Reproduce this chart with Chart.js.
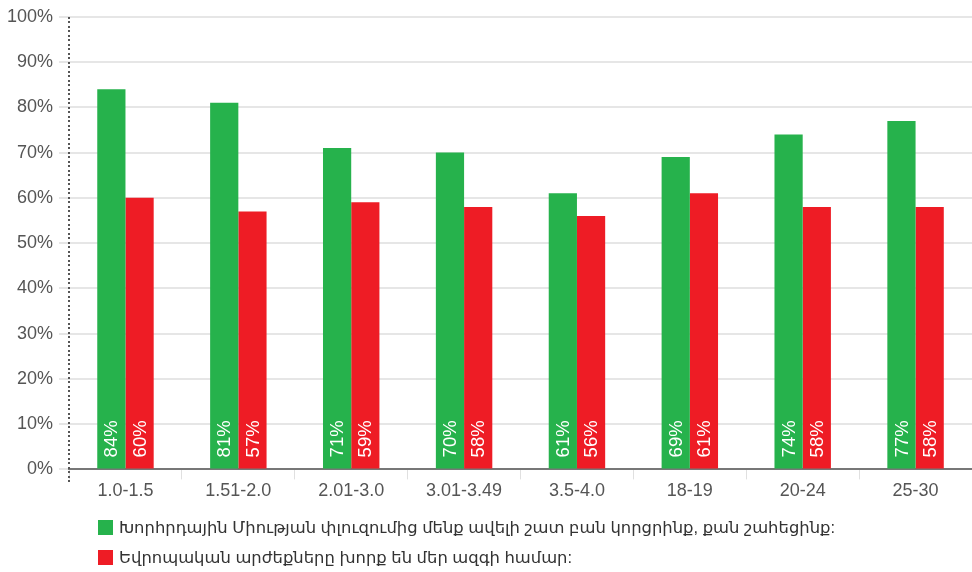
<!DOCTYPE html>
<html>
<head>
<meta charset="utf-8">
<script src="https://cdn.jsdelivr.net/npm/chart.js@4.4.0/dist/chart.umd.min.js"></script>
<style>
html,body{margin:0;padding:0;background:#fff;}
#wrap{position:relative;width:972px;height:572px;}
#legend{position:absolute;left:98px;top:512px;font-family:"Liberation Sans","DejaVu Sans",Arial,sans-serif;font-size:16.4px;color:#333;}
#legend .item{display:flex;align-items:center;height:30px;}
#legend .box{width:15px;height:15px;margin-right:6px;}
</style>
</head>
<body>
<div id="wrap">
<canvas id="c" width="972" height="572"></canvas>
<div id="legend"></div>
</div>
<script>
const categories = ["1.0-1.5","1.51-2.0","2.01-3.0","3.01-3.49","3.5-4.0","18-19","20-24","25-30"];
const seriesNames = ["Խորհրդային Միության փլուզումից մենք ավելի շատ բան կորցրինք, քան շահեցինք:","Եվրոպական արժեքները խորք են մեր ազգի համար:"];
const greenValues = [84,81,71,70,61,69,74,77];
const redValues = [60,57,59,58,56,61,58,58];
const yTicks = [0,10,20,30,40,50,60,70,80,90,100];
const colors = ["#26b24c","#ee1c25"];

const FONT = "'Liberation Sans','DejaVu Sans',Arial,sans-serif";

const labelPlugin = {
  id:'barLabels',
  afterDatasetsDraw(chart){
    const ctx = chart.ctx;
    ctx.save();
    ctx.fillStyle = '#fff';
    ctx.font = "18.5px " + FONT;
    ctx.textAlign = 'left';
    ctx.textBaseline = 'middle';
    chart.data.datasets.forEach((ds,di)=>{
      const meta = chart.getDatasetMeta(di);
      meta.data.forEach((bar,i)=>{
        ctx.save();
        ctx.translate(bar.x, bar.base - 11);
        ctx.rotate(-Math.PI/2);
        ctx.fillText(ds.data[i] + '%', 0, 1);
        ctx.restore();
      });
    });
    ctx.restore();
  }
};

const dottedAxis = {
  id:'dottedAxis',
  afterDraw(chart){
    const ctx = chart.ctx, a = chart.chartArea;
    const x = chart.scales.y.left + chart.scales.y.width;
    ctx.save();
    ctx.fillStyle = '#555';
    for(let y=a.top; y<=a.bottom+14; y+=4.5){
      ctx.fillRect(Math.round(x)-1, Math.round(y), 2, 2);
    }
    ctx.restore();
  }
};

new Chart(document.getElementById('c'),{
  type:'bar',
  data:{
    labels:categories,
    datasets:[
      {label:seriesNames[0],data:greenValues,backgroundColor:colors[0]},
      {label:seriesNames[1],data:redValues,backgroundColor:colors[1]}
    ]
  },
  options:{
    responsive:false,
    animation:false,
    devicePixelRatio:1,
    layout:{padding:{top:8,right:0,bottom:69,left:1}},
    plugins:{legend:{display:false},tooltip:{enabled:false}},
    datasets:{bar:{categoryPercentage:0.5,barPercentage:1}},
    scales:{
      x:{
        grid:{drawOnChartArea:false,drawTicks:true,tickLength:10,color:'#e0e0e0',offset:true},
        border:{display:true,color:'#777',width:2},
        ticks:{color:'#555',font:{family:FONT,size:18},padding:1}
      },
      y:{
        min:0,max:100,
        afterBuildTicks(scale){scale.ticks = yTicks.map(v=>({value:v}));},
        grid:{color:'#e6e6e6',lineWidth:2,drawTicks:true,tickLength:10},
        border:{display:false},
        ticks:{color:'#555',font:{family:FONT,size:18},padding:6,callback:v=>v+'%'}
      }
    }
  },
  plugins:[labelPlugin,dottedAxis]
});

const lg = document.getElementById('legend');
seriesNames.forEach((n,i)=>{
  const d = document.createElement('div');d.className='item';
  const b = document.createElement('div');b.className='box';b.style.background=colors[i];
  const t = document.createElement('span');t.textContent=n;
  d.appendChild(b);d.appendChild(t);lg.appendChild(d);
});
</script>
</body>
</html>
